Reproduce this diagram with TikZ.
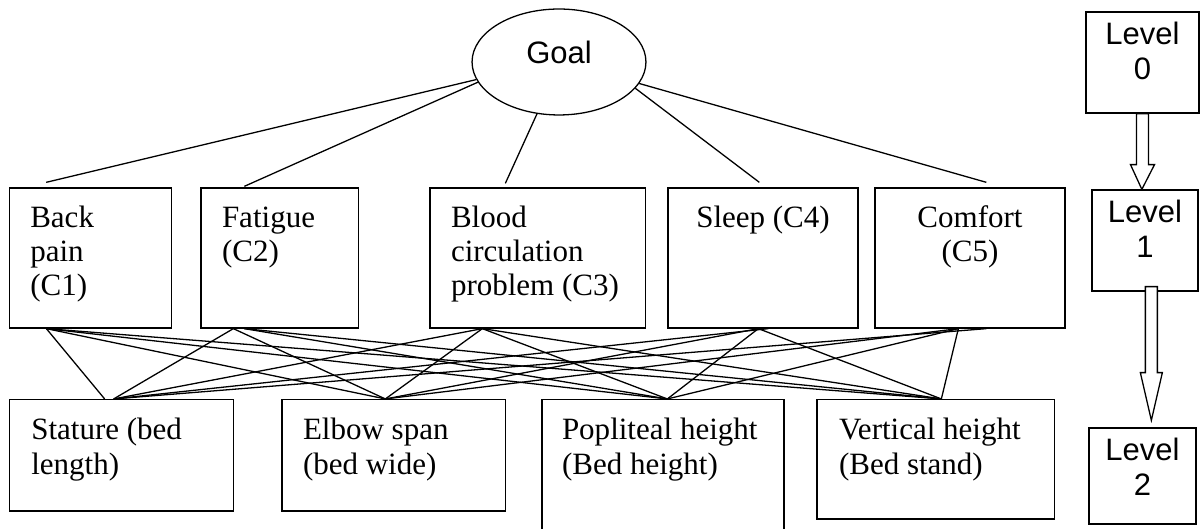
\documentclass[tikz,border=0pt]{standalone}
\usepackage{fontspec}
\setmainfont{Liberation Serif}
\newfontfamily\arialfont{Liberation Sans}
\usetikzlibrary{shapes.geometric,fit,calc}
\begin{document}
\begin{tikzpicture}[x=0.387pt,y=-0.387pt,line width=0.5pt,
  box/.style={draw, rectangle, inner sep=0pt},
  ctext/.style={font=\fontsize{12}{13.2}\selectfont, inner sep=0pt, align=left, anchor=base west},
  ctextc/.style={font=\fontsize{12}{13.2}\selectfont, inner sep=0pt, align=center, anchor=base},
  atext/.style={font=\fontsize{12}{13.9}\selectfont, inner sep=0pt, align=left, anchor=base west},
  ltext/.style={font=\arialfont\fontsize{12}{13.5}\selectfont, inner sep=0pt, align=center, anchor=base},
  blockarrow/.style={draw, fill=white, line width=0.5pt}]
\useasboundingbox (0,0) rectangle (1200,529);

% Goal
\node[draw, ellipse, inner sep=0pt, minimum width=67.3pt, minimum height=41pt] (goal) at (559,62) {};
\node[font=\arialfont\fontsize{12}{13.5}\selectfont, inner sep=0pt] (goaltext) at (559,52) {Goal};

% Criteria
\node[box, fit={(9.3,188) (171.7,328)}] (c1) {};
\node[box, fit={(201,188) (358.5,328)}] (c2) {};
\node[box, fit={(430,188) (645.7,328)}] (c3) {};
\node[box, fit={(668,188) (858,328)}] (c4) {};
\node[box, fit={(875,188) (1065,328)}] (c5) {};

% base anchor = baseline of the last line
\node[ctext] (c1t) at ($(c1.north west)+(21,108)$) {Back\\pain\\(C1)};
\node[ctext] (c2t) at ($(c2.north west)+(21,74)$) {Fatigue\\(C2)};
\node[ctext] (c3t) at ($(c3.north west)+(21,108)$) {Blood\\circulation\\problem (C3)};
\node[ctextc] (c4t) at ($(c4.north)+(0,40)$) {Sleep (C4)};
\node[ctextc] (c5t) at ($(c5.north)+(0,74)$) {Comfort\\(C5)};

% Alternatives
\node[box, fit={(9.3,399.6) (233.5,511)}] (a1) {};
\node[box, fit={(282,399.6) (505.5,511)}] (a2) {};
\node[box, fit={(542,399.6) (784,535)}] (a3) {};
\node[box, fit={(817,399.6) (1054.6,519)}] (a4) {};

\node[atext] (a1t) at ($(a1.north west)+(22,76)$) {Stature (bed\\length)};
\node[atext] (a2t) at ($(a2.north west)+(21,76)$) {Elbow span\\(bed wide)};
\node[atext] (a3t) at ($(a3.north west)+(20,76)$) {Popliteal height\\(Bed height)};
\node[atext] (a4t) at ($(a4.north west)+(22,76)$) {Vertical height\\(Bed stand)};

% Levels
\node[box, fit={(1086,12) (1199,113)}] (l0) {};
\node[box, fit={(1092,190) (1198,291)}] (l1) {};
\node[box, fit={(1089,428) (1196,524)}] (l2) {};
\node[ltext] (l0t) at ($(l0.north)+(0,68)$) {Level\\0};
\node[ltext] (l1t) at ($(l1.north)+(0,68)$) {Level\\1};
\node[ltext] (l2t) at ($(l2.north)+(0,68)$) {Level\\2};

% Goal to criteria
\draw (goal.192) -- ($(c1.north west)+(37.5,-5)$);
\draw (goal.194) -- ($(c2.north west)+(44,-1)$);
\draw (goal.247.5) -- ($(c3.north west)+(76,-4)$);
\draw (goal.341) -- ($(c4.north west)+(92,-5)$);
\draw (goal.345) -- ($(c5.north west)+(112,-5)$);

% Connection points
\coordinate (c1b) at ($(c1.south west)+(37.7,0)$);
\coordinate (c2b) at ($(c2.south west)+(33,0)$);
\coordinate (c2bb) at ($(c2.south west)+(44,0)$);
\coordinate (c3b) at ($(c3.south west)+(53,0)$);
\coordinate (c4b) at ($(c4.south west)+(91,0)$);
\coordinate (c4bb) at ($(c4.south west)+(101,0)$);
\coordinate (c5b) at ($(c5.south west)+(84,0)$);
\coordinate (c5bb) at ($(c5.south west)+(112,0)$);
\coordinate (a1p) at ($(a1.north west)+(96,0)$);
\coordinate (a1q) at ($(a1.north west)+(105,0)$);
\coordinate (a2p) at ($(a2.north west)+(104,0)$);
\coordinate (a3p) at ($(a3.north west)+(126,0)$);
\coordinate (a4p) at ($(a4.north west)+(125,0)$);

% Criteria to alternatives
\draw (c1b) -- (a1p);
\draw (c1b) -- (a2p);
\draw (c1b) -- (a3p);
\draw (c1b) -- (a4p);
\draw (c2b) -- (a1q);
\draw (c2b) -- (a2p);
\draw (c2bb) -- (a3p);
\draw (c2bb) -- (a4p);
\draw (c3b) -- (a1q);
\draw (c3b) -- (a2p);
\draw (c3b) -- (a3p);
\draw (c3b) -- (a4p);
\draw (c4bb) -- (a1q);
\draw (c4b) -- (a2p);
\draw (c4b) -- (a3p);
\draw (c4b) -- (a4p);
\draw (c5bb) -- (a1q);
\draw (c5b) -- (a2p);
\draw (c5b) -- (a3p);
\draw (c5b) -- (a4p);

% Level arrows
\draw[blockarrow] ($(l0.south)+(-6,0)$) coordinate (p1) -- ++(0,51) -- ++(-6,0)
  -- ($(l1.north west)+(50.5,0)$) -- ($(p1)+(18,51)$) -- ++(-6,0) -- ++(0,-51) -- cycle;
\draw[blockarrow] ($(l1.south west)+(54,-5)$) coordinate (p2) -- ++(0,86) -- ++(-5,0)
  -- ($(l2.north west)+(63,-7)$) -- ($(p2)+(17,86)$) -- ++(-5,0) -- ++(0,-86) -- cycle;
\end{tikzpicture}
\end{document}
